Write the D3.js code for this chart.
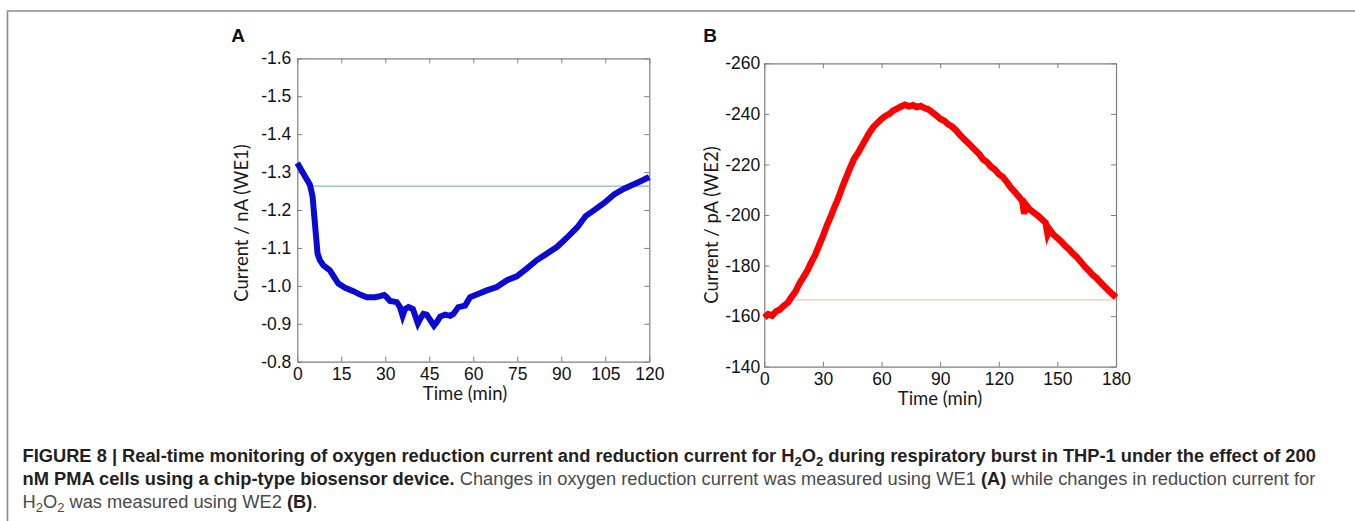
<!DOCTYPE html>
<html>
<head>
<meta charset="utf-8">
<script src="https://cdn.jsdelivr.net/npm/d3@7"></script>
<style>
  body { margin: 0; background: #fff; }
  svg { display: block; }
  .tick text { font-family: "Liberation Sans", Arial, sans-serif; font-size: 17.5px; fill: #111; }
  .axis path, .axis line { stroke: #7f7f7f; }
  .alabel { font-family: Lato, "Open Sans", sans-serif; font-size: 18.5px; fill: #1a1a1a; }
  .cap { font-family: "Liberation Sans", Arial, sans-serif; font-size: 18.3px; }
</style>
</head>
<body>
<svg id="svg" width="1355" height="521"></svg>
<script>
// Panel A - oxygen reduction current, WE1 (nA)
var timeA = [0, 2.6, 4.3, 5.2, 5.8, 6.4, 6.9, 7.7, 8.9, 11.1, 12.9, 14, 16.3, 19.1, 21.4, 23.7, 26.5, 28.2, 29.6,
  30.5, 31.6, 33.9, 35, 35.9, 36.7, 37.9, 39.4, 40.2, 41.1, 41.9, 43, 44.1, 45.5, 46.6, 47.5, 48.7, 50.4,
  52.1, 53.2, 54.9, 57.2, 58.9, 61.2, 64.6, 68, 71.5, 74.8, 78.3, 81.7, 85.1, 88.6, 92, 95.4, 98.3, 101.1,
  104.5, 108, 111.4, 114, 117, 120];
var currentA = [-1.324, -1.289, -1.267, -1.236, -1.183, -1.13, -1.085, -1.068, -1.054, -1.041, -1.019, -1.006,
  -0.995, -0.986, -0.977, -0.97, -0.97, -0.973, -0.976, -0.97, -0.96, -0.957, -0.944, -0.921, -0.939, -0.944,
  -0.939, -0.921, -0.901, -0.913, -0.926, -0.924, -0.908, -0.895, -0.904, -0.919, -0.924, -0.921, -0.926,
  -0.944, -0.948, -0.97, -0.977, -0.988, -0.997, -1.015, -1.025, -1.046, -1.068, -1.085, -1.103, -1.128,
  -1.154, -1.184, -1.199, -1.218, -1.241, -1.256, -1.265, -1.276, -1.287];
var baseA = -1.263;
var baseA_from = 4.5;

// Panel B - H2O2 reduction current, WE2 (pA)
var timeB = [0, 2, 4, 6, 8, 10, 12, 14, 16, 18, 20, 22, 24, 26, 28, 30, 32, 34, 36, 38, 40, 42, 44, 46, 48,
  50, 52, 54, 56, 58, 60, 62, 64, 66, 68, 70, 72, 74, 76, 78, 80, 82, 84, 86, 88, 90, 92, 94, 96, 98, 100,
  102, 104, 106, 108, 110, 112, 114, 116, 118, 120, 122, 124, 126, 128, 130, 132, 133, 134, 136, 138, 140,
  142, 144, 145, 146, 148, 150, 152, 154, 156, 158, 160, 162, 164, 166, 168, 170, 172, 174, 176, 178, 180];
var currentB = [-159.5, -160.8, -160.2, -161.9, -162.6, -164.1, -165.3, -167.6, -169.8, -172.9, -175.4,
  -178.0, -181.2, -184.1, -187.9, -191.6, -195.8, -199.4, -203.3, -206.9, -211.2, -215.0, -218.8, -222.3,
  -224.6, -227.4, -230.1, -232.8, -235.0, -236.5, -238.0, -239.2, -240.0, -241.3, -242.1, -242.9, -243.6,
  -243.0, -243.4, -242.7, -243.1, -242.3, -241.8, -240.6, -239.4, -238.1, -237.3, -235.9, -235.0, -233.6,
  -231.8, -230.2, -228.7, -227.2, -225.6, -224.1, -222.0, -220.9, -219.1, -218.0, -216.2, -215.1, -213.2,
  -211.0, -209.3, -207.5, -205.6, -200.5, -204.0, -202.1, -200.9, -199.8, -198.4, -196.9, -192.5, -194.3,
  -192.2, -190.9, -189.5, -187.8, -186.4, -184.7, -183.3, -181.5, -179.6, -178.1, -176.3, -175.1, -173.4,
  -171.8, -170.3, -168.8, -167.4];
var baseB = -166.4;
var baseB_from = 15.7;

var xTicksA = [0, 15, 30, 45, 60, 75, 90, 105, 120];
var yTicksA = [-1.6, -1.5, -1.4, -1.3, -1.2, -1.1, -1.0, -0.9, -0.8];
var xTicksB = [0, 30, 60, 90, 120, 150, 180];
var yTicksB = [-260, -240, -220, -200, -180, -160, -140];

var svg = d3.select("#svg");

// frame (top + left edges only)
svg.append("path")
  .attr("d", "M7.5,521 L7.5,11 L1355,11")
  .attr("fill", "none")
  .attr("stroke", "#8a8a8a")
  .attr("stroke-width", 1.6);

function panel(o) {
  var x = d3.scaleLinear().domain(o.xdom).range([o.left, o.right]);
  var y = d3.scaleLinear().domain(o.ydom).range([o.bottom, o.top]);
  var g = svg.append("g");

  // inward ticks on all four sides
  g.append("g").attr("class", "axis")
    .attr("transform", "translate(0," + o.bottom + ")")
    .call(d3.axisBottom(x).tickValues(o.xt).tickSizeInner(-5).tickSizeOuter(0).tickPadding(6).tickFormat(d3.format("d")));
  g.append("g").attr("class", "axis")
    .attr("transform", "translate(0," + o.top + ")")
    .call(d3.axisTop(x).tickValues(o.xt).tickSizeInner(-5).tickSizeOuter(0).tickFormat(""));
  g.append("g").attr("class", "axis")
    .attr("transform", "translate(" + o.left + ",0)")
    .call(d3.axisLeft(y).tickValues(o.yt).tickSizeInner(-5).tickSizeOuter(0).tickPadding(o.ypad).tickFormat(o.yfmt));
  g.append("g").attr("class", "axis")
    .attr("transform", "translate(" + o.right + ",0)")
    .call(d3.axisRight(y).tickValues(o.yt).tickSizeInner(-5).tickSizeOuter(0).tickFormat(""));
  g.selectAll(".axis path").attr("stroke-width", 1.2);

  // reference line
  g.append("line")
    .attr("x1", x(o.baseFrom)).attr("x2", x(o.xdom[1]))
    .attr("y1", y(o.base)).attr("y2", y(o.base))
    .attr("stroke", o.baseColor).attr("stroke-width", 1.3);

  var pts = o.t.map(function(d, i) { return [d, o.v[i]]; });
  g.append("path")
    .datum(pts)
    .attr("fill", "none")
    .attr("stroke", o.color)
    .attr("stroke-width", o.sw)
    .attr("stroke-linejoin", "miter")
    .attr("d", d3.line().x(function(d) { return x(d[0]); }).y(function(d) { return y(d[1]); }));

  g.append("text").attr("class", "alabel")
    .attr("x", o.xlabX).attr("y", o.bottom + 38)
    .attr("text-anchor", "middle")
    .text("Time (min)");
  g.append("text").attr("class", "alabel")
    .attr("transform", "translate(" + o.ylabX + "," + o.ylabY + ") rotate(-90)")
    .attr("text-anchor", "middle")
    .text(o.ylab);
  g.append("text")
    .attr("x", o.letterX).attr("y", 42)
    .attr("text-anchor", "middle")
    .style("font-family", "Liberation Sans, Arial, sans-serif")
    .style("font-weight", "bold").style("font-size", "19px").attr("fill", "#111")
    .text(o.letter);
}

panel({
  left: 297.3, right: 649.3, top: 58.3, bottom: 361.7,
  xdom: [0, 120], ydom: [-0.8, -1.6], xt: xTicksA, yt: yTicksA,
  yfmt: function(d) { return d.toFixed(1); }, ypad: 6,
  t: timeA, v: currentA, color: "#0a0ad2", sw: 6,
  base: baseA, baseFrom: baseA_from, baseColor: "#86b8d8",
  xlabX: 465, ylabX: 248, ylabY: 223, ylab: "Current / nA (WE1)",
  letter: "A", letterX: 238
});

panel({
  left: 764.3, right: 1116, top: 63.3, bottom: 366.7,
  xdom: [0, 180], ydom: [-140, -260], xt: xTicksB, yt: yTicksB,
  yfmt: function(d) { return String(d); }, ypad: 4,
  t: timeB, v: currentB, color: "#ff0000", sw: 6.5,
  base: baseB, baseFrom: baseB_from, baseColor: "#eecbb0",
  xlabX: 940, ylabX: 718, ylabY: 225, ylab: "Current / pA (WE2)",
  letter: "B", letterX: 710
});

// caption
var capLines = [
  { y: 462, parts: [
    { t: "FIGURE 8 | Real-time monitoring of oxygen reduction current and reduction current for H", b: true },
    { t: "2", b: true, sub: true }, { t: "O", b: true }, { t: "2", b: true, sub: true },
    { t: " during respiratory burst in THP-1 under the effect of 200", b: true }
  ]},
  { y: 485, parts: [
    { t: "nM PMA cells using a chip-type biosensor device.", b: true },
    { t: " Changes in oxygen reduction current was measured using WE1 ", b: false },
    { t: "(A)", b: true },
    { t: " while changes in reduction current for", b: false }
  ]},
  { y: 508, parts: [
    { t: "H", b: false }, { t: "2", b: false, sub: true }, { t: "O", b: false }, { t: "2", b: false, sub: true },
    { t: " was measured using WE2 ", b: false },
    { t: "(B)", b: true }, { t: ".", b: false }
  ]}
];

capLines.forEach(function(line) {
  var txt = svg.append("text").attr("class", "cap").attr("x", 22.5).attr("y", line.y);
  var prevSub = false;
  line.parts.forEach(function(p) {
    var ts = txt.append("tspan").text(p.t)
      .attr("font-weight", p.b ? "bold" : "normal")
      .attr("fill", p.b ? "#231f20" : "#4a4a4a");
    if (p.sub) { ts.attr("dy", 4).style("font-size", "13px"); prevSub = true; }
    else if (prevSub) { ts.attr("dy", -4); prevSub = false; }
  });
});
</script>
</body>
</html>
